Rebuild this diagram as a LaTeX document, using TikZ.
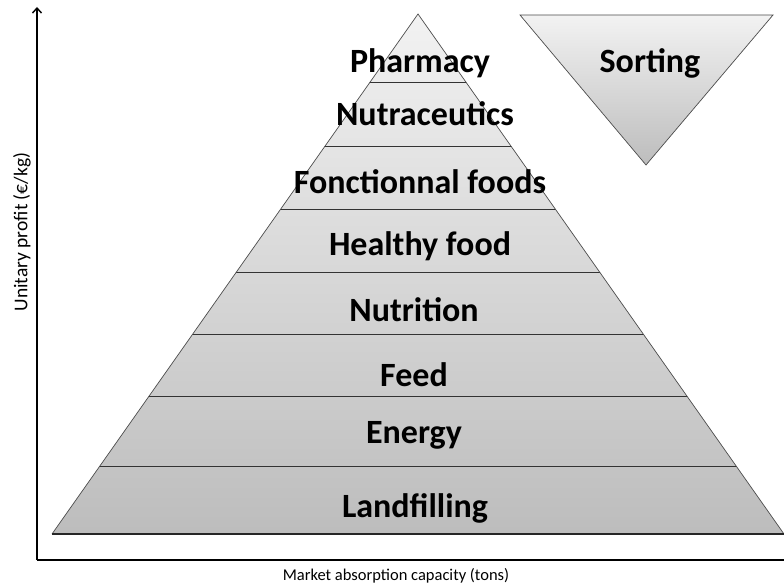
\documentclass[tikz,border=0pt]{standalone}
\usepackage{fontspec}
\setmainfont{Carlito}
\usepackage{tikz}
\usetikzlibrary{arrows.meta}

\begin{document}
\begin{tikzpicture}[x=1pt, y=-1pt, every node/.style={inner sep=0pt, anchor=base, font=\bfseries\fontsize{34}{38}\selectfont}]
    \useasboundingbox (0,0) rectangle (784,586);

    % axes
    \coordinate (O) at (37,560);
    \coordinate (Ytop) at (37,7);
    \coordinate (Xend) at (792,560);
    \draw[line width=1.4pt, -{Straight Barb[length=5pt,width=9pt]}] (O) -- (Ytop);
    \draw[line width=1.4pt, -{Straight Barb[length=5pt,width=9pt]}] (O) -- (Xend);
    \node[font=\fontsize{16.5}{18}\selectfont, anchor=center] (xlab) at (396,576) {Market absorption capacity (tons)};
    \node[font=\fontsize{19.5}{21}\selectfont, anchor=center, rotate=90] (ylab) at (22,232) {Unitary profit (€/kg)};

    % pyramid
    \coordinate (top) at (418,14);
    \coordinate (bl) at (52,534);
    \coordinate (br) at (784,534);
    \shade[top color=gray!10, bottom color=gray!52] (top) -- (br) -- (bl) -- cycle;
    \begin{scope}
        \clip (top) -- (br) -- (bl) -- cycle;
        \foreach \y in {82,146,209,272,334,396,466}
            \draw[gray!40!black, line width=0.8pt] (0,\y) -- (784,\y);
    \end{scope}
    \draw[gray!60!black, line width=0.7pt] (bl) -- (top) -- (br);
    \draw[gray!30!black, line width=1.2pt] (bl) -- (br);

    \node (pharma) at (420,72) {Pharmacy};
    \node (nutra) at (425,125) {Nutraceutics};
    \node (fonc) at (420,193) {Fonctionnal foods};
    \node (healthy) at (420,255) {Healthy food};
    \node (nutri) at (414,321) {Nutrition};
    \node (feed) at (414,386) {Feed};
    \node (energy) at (414,443) {Energy};
    \node (land) at (415,517) {Landfilling};

    % sorting
    \coordinate (sl) at (520,15);
    \coordinate (sr) at (773,15);
    \coordinate (sb) at (646,165);
    \shade[top color=gray!10, bottom color=gray!52] (sl) -- (sr) -- (sb) -- cycle;
    \draw[gray!60!black, line width=0.7pt] (sl) -- (sr) -- (sb) -- cycle;
    \node (sort) at (650,72) {Sorting};
\end{tikzpicture}
\end{document}
